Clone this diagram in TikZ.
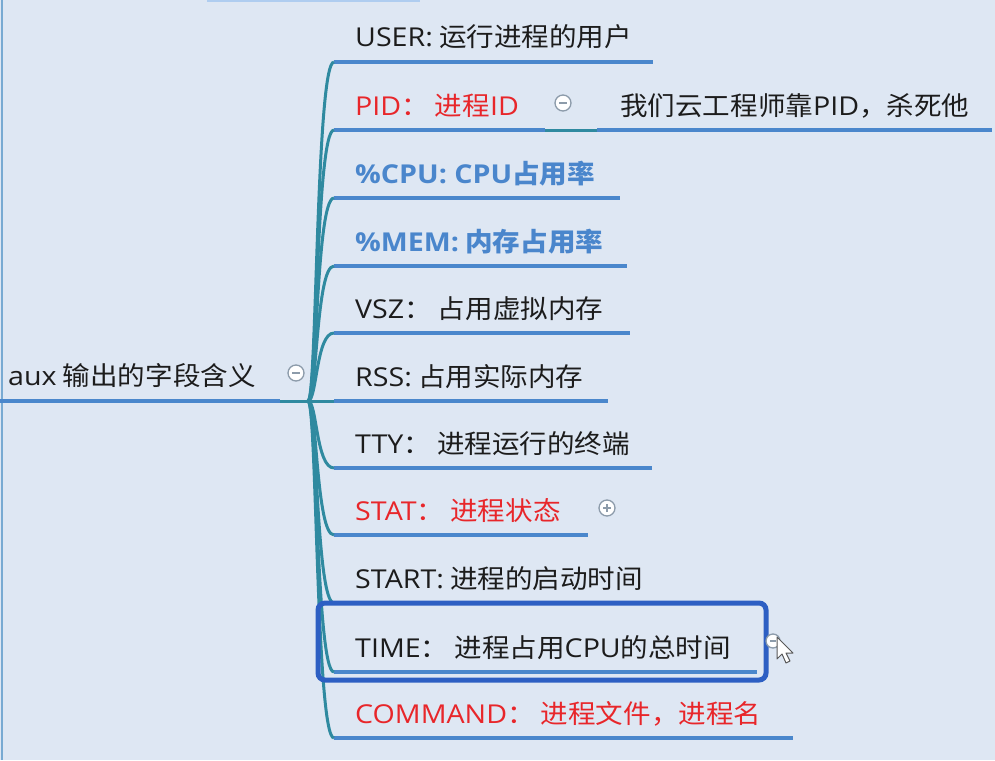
\documentclass[tikz,border=0pt]{standalone}
\usepackage{fontspec}
\newfontfamily\cjkr{Noto Sans CJK SC}[FakeStretch=1.06]
\newfontfamily\latf{Open Sans}[FakeStretch=1.1]
\newcommand\latn[1]{{\latf #1}}
\definecolor{bg}{RGB}{222,231,243}
\definecolor{ulblue}{RGB}{74,135,204}
\definecolor{teal1}{RGB}{47,138,160}
\definecolor{redt}{RGB}{232,38,42}
\definecolor{blut}{RGB}{74,134,204}
\definecolor{blkt}{RGB}{28,28,28}
\definecolor{boxb}{RGB}{45,95,195}
\definecolor{edge}{RGB}{120,170,210}
\definecolor{topbar}{RGB}{175,205,240}
\definecolor{icon}{RGB}{140,155,170}
\tikzset{
  item/.style={inner sep=0pt, anchor=base west, font=\cjkr\fontsize{26}{30}\selectfont},
  blk/.style={item, text=blkt},
  redi/.style={item, text=redt},
  blui/.style={item, text=blut, font=\cjkr\fontsize{26}{30}\selectfont\bfseries},
  ul/.style={draw=ulblue, line width=4pt},
  br/.style={draw=teal1, line width=3pt},
  tog/.style={circle, draw=icon, fill=white, line width=1.3pt, minimum size=16pt, inner sep=0pt},
  sign/.style={draw=icon, line width=1.5pt}
}
\begin{document}
\begin{tikzpicture}[x=1pt,y=-1pt]
\fill[bg] (0,0) rectangle (995,760);
\useasboundingbox (0,0) rectangle (995,760);
% window edges
\coordinate (e1) at (2,0); \coordinate (e2) at (2,760);
\draw[edge, line width=2.5pt] (e1) -- (e2);
\coordinate (b1) at (207,0); \coordinate (b2) at (420,0);
\draw[topbar, line width=5pt] (b1) -- (b2);
% root
\node[blk] (root) at (8,385) {\latn{aux} 输出的字段含义};
\coordinate (rootL) at (0,401);
\coordinate (rootR) at (280,401);
\coordinate (J) at (308,401);
\draw[ul] (rootL) -- (rootR);
\draw[br] (rootR) -- (J);
% items
\foreach \i/\y/\r/\s/\t in {
  1/62/653/blk/{\latn{USER:} 运行进程的用户},
  2/130/545/redi/{\latn{PID}： 进程\latn{ID}},
  3/198/620/blui/{\latn{\%CPU: CPU}占用率},
  4/266/627/blui/{\latn{\%MEM:} 内存占用率},
  5/333/630/blk/{\latn{VSZ}： 占用虚拟内存},
  6/401/608/blk/{\latn{RSS:} 占用实际内存},
  7/468/652/blk/{\latn{TTY}： 进程运行的终端},
  8/535/588/redi/{\latn{STAT}： 进程状态},
  9/603/667/blk/{\latn{START:} 进程的启动时间},
  10/672/757/blk/{\latn{TIME}： 进程占用\latn{CPU}的总时间},
  11/738/793/redi/{\latn{COMMAND}： 进程文件，进程名}}{
  \node[\s] (c\i) at (355,\y-15) {\t};
  \coordinate (l\i) at (334,\y);
  \coordinate (r\i) at (\r,\y);
  \draw[ul] (l\i) -- (r\i);
  \draw[br] (J) .. controls (317,401) and (316,\y) .. (l\i);
}
% PID child
\coordinate (pt1) at (597,130);
\coordinate (pidR) at (992,130);
\draw[br] (r2) -- (pt1);
\draw[ul] (pt1) -- (pidR);
\node[blk] (pidc) at (620,115) {我们云工程师靠\latn{PID}，杀死他};
% toggles
\node[tog] (t1) at (296,373) {};
\draw[sign] ([xshift=-4pt]t1.center) -- ([xshift=4pt]t1.center);
\node[tog] (t2) at (563,103) {};
\draw[sign] ([xshift=-4pt]t2.center) -- ([xshift=4pt]t2.center);
\node[tog] (t3) at (607,508) {};
\draw[sign] ([xshift=-4pt]t3.center) -- ([xshift=4pt]t3.center);
\draw[sign] ([yshift=-4pt]t3.center) -- ([yshift=4pt]t3.center);
% TIME highlight box
\coordinate (bx1) at (318,603);
\coordinate (bx2) at (766,680);
\draw[boxb, line width=5pt, rounded corners=7pt] (bx1) rectangle (bx2);
\node[tog, minimum size=14pt] (t4) at (773,641) {};
\draw[sign] ([xshift=-3pt]t4.center) -- ([xshift=3pt]t4.center);
% mouse cursor
\coordinate (cur) at (777,637);
\draw[gray!70!black, fill=white, line width=1pt, line join=round]
  (cur) -- ++(0,22) -- ++(5,-5) -- ++(4,9) -- ++(4,-2) -- ++(-4,-8) -- ++(7,0) -- cycle;
\end{tikzpicture}
\end{document}
